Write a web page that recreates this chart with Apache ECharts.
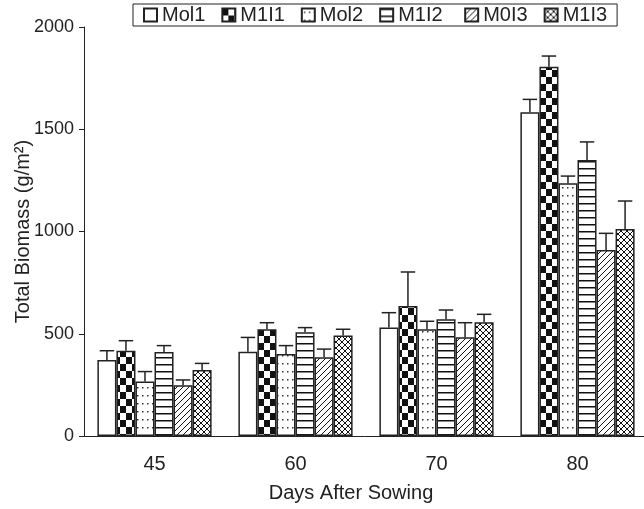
<!DOCTYPE html>
<html>
<head>
<meta charset="utf-8">
<script src="https://cdn.jsdelivr.net/npm/echarts@6/dist/echarts.min.js"></script>
<style>
html,body{margin:0;padding:0;background:#fff}
#chart{width:644px;height:509px}
</style>
</head>
<body>
<div id="chart"></div>
<script>
// data
var days = ['45', '60', '70', '80'];
var names = ['Mol1', 'M1I1', 'Mol2', 'M1I2', 'M0I3', 'M1I3'];
var yTicks = [0, 500, 1000, 1500, 2000];

var mol1 = [372, 412, 530, 1583];
var m1i1 = [417, 522, 636, 1806];
var mol2 = [266, 401, 522, 1236];
var m1i2 = [411, 507, 571, 1350];
var m0i3 = [248, 385, 483, 910];
var m1i3 = [323, 492, 556, 1012];

var errMol1 = [45, 70, 73, 63];
var errM1i1 = [49, 32, 166, 52];
var errMol2 = [49, 41, 39, 35];
var errM1i2 = [31, 23, 45, 88];
var errM0i3 = [26, 40, 71, 81];
var errM1i3 = [32, 30, 39, 137];

var values = [mol1, m1i1, mol2, m1i2, m0i3, m1i3];
var errors = [errMol1, errM1i1, errMol2, errM1i2, errM0i3, errM1i3];

var INK = '#222';
var CAT_GAP = 0.19;

// fill patterns
function pat(w, h, draw) {
	var c = document.createElement('canvas');
	c.width = w; c.height = h;
	var g = c.getContext('2d');
	g.fillStyle = '#fff';
	g.fillRect(0, 0, w, h);
	g.fillStyle = '#111';
	g.strokeStyle = '#111';
	draw(g);
	return { image: c, repeat: 'repeat' };
}
function diag(g, up, down) {
	g.lineWidth = 1;
	g.beginPath();
	if (up) {
		g.moveTo(-1, 7); g.lineTo(7, -1);
		g.moveTo(-1, 1); g.lineTo(1, -1);
		g.moveTo(5, 7); g.lineTo(7, 5);
	}
	if (down) {
		g.moveTo(-1, -1); g.lineTo(7, 7);
		g.moveTo(5, -1); g.lineTo(7, 1);
		g.moveTo(-1, 5); g.lineTo(1, 7);
	}
	g.stroke();
}
var fills = [
	'#fff',
	pat(12, 14, function (g) { g.fillRect(0, 0, 6, 7); g.fillRect(6, 7, 6, 7); }),
	pat(5, 8, function (g) { g.fillStyle = '#333'; g.fillRect(2, 3, 1.5, 1.5); }),
	pat(4, 7, function (g) { g.fillRect(0, 0, 4, 1.5); }),
	pat(6, 6, function (g) { diag(g, true, false); }),
	pat(6, 6, function (g) { diag(g, true, true); })
];

var series = names.map(function (n, i) {
	return {
		name: n,
		type: 'bar',
		barGap: 0,
		barCategoryGap: (CAT_GAP * 100) + '%',
		data: values[i],
		itemStyle: { color: fills[i], borderColor: INK, borderWidth: 1.5 }
	};
});

// error bars
var errData = [];
values.forEach(function (vals, k) {
	vals.forEach(function (v, ci) {
		errData.push([ci, v, errors[k][ci], k]);
	});
});
series.push({
	type: 'custom',
	z: 5,
	silent: true,
	data: errData,
	renderItem: function (params, api) {
		var ci = api.value(0), v = api.value(1), e = api.value(2), k = api.value(3);
		var base = api.coord([ci, v]);
		var top = api.coord([ci, v + e]);
		var band = api.size([1, 0])[0];
		var groupW = band * (1 - CAT_GAP);
		var bw = groupW / names.length;
		var x = base[0] - groupW / 2 + (k + 0.5) * bw;
		var cap = bw * 0.38;
		var st = { stroke: INK, lineWidth: 1.5 };
		return {
			type: 'group',
			children: [
				{ type: 'line', shape: { x1: x, y1: base[1], x2: x, y2: top[1] }, style: st },
				{ type: 'line', shape: { x1: x - cap, y1: top[1], x2: x + cap, y2: top[1] }, style: st }
			]
		};
	}
});

var chart = echarts.init(document.getElementById('chart'));
chart.setOption({
	animation: false,
	textStyle: { fontFamily: 'Liberation Sans, Arial, sans-serif', color: INK },
	legend: {
		data: names,
		left: 133,
		top: 4,
		padding: [1, 10, 1, 10],
		itemGap: 16,
		itemWidth: 13,
		itemHeight: 13,
		icon: 'rect',
		borderColor: INK,
		borderWidth: 1,
		formatter: function (n) { return n === 'M1I2' ? n + ' ' : n; },
		textStyle: { fontSize: 20, color: INK }
	},
	grid: { left: 84, right: -4, top: 27, bottom: 73, outerBoundsMode: 'none', containLabel: false },
	xAxis: {
		type: 'category',
		data: days,
		name: 'Days After Sowing',
		nameLocation: 'middle',
		nameGap: 47,
		nameMoveOverlap: false,
		nameTextStyle: { fontSize: 20, color: INK, padding: [0, 30, 0, 0] },
		axisLine: { lineStyle: { color: INK, width: 1 } },
		axisTick: { length: 7, lineStyle: { color: INK } },
		axisLabel: { fontSize: 20, color: INK, margin: 18 }
	},
	yAxis: {
		type: 'value',
		min: yTicks[0],
		max: yTicks[yTicks.length - 1],
		interval: yTicks[1] - yTicks[0],
		name: 'Total Biomass (g/m²)',
		nameLocation: 'middle',
		nameGap: 51,
		nameMoveOverlap: false,
		nameTextStyle: { fontSize: 20, color: INK },
		splitLine: { show: false },
		axisLine: { show: true, lineStyle: { color: INK, width: 1 } },
		axisTick: { show: true, length: 5, lineStyle: { color: INK } },
		axisLabel: { fontSize: 18, color: INK, margin: 10, formatter: function (v) { return String(v); } }
	},
	series: series
});
</script>
</body>
</html>
